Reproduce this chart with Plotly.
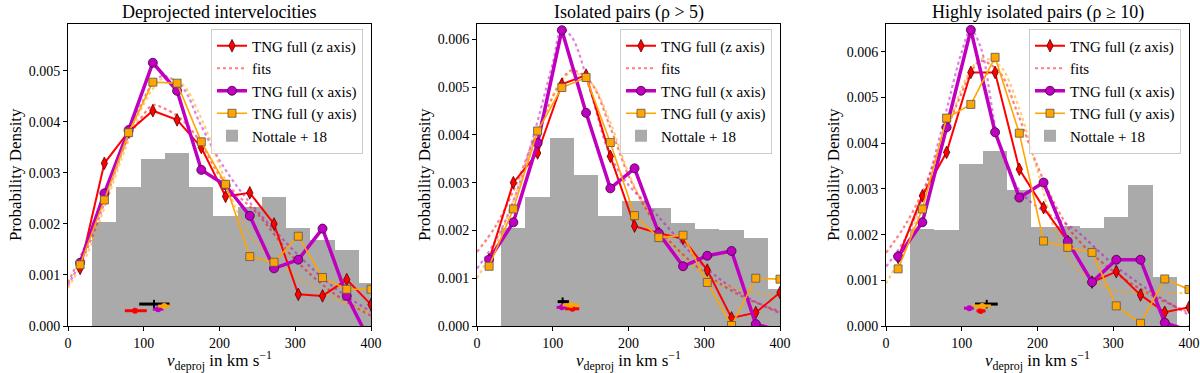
import plotly.graph_objects as go

# velocity bin centres of the TNG curves (km/s)
V_BINS = [16, 48, 80, 112, 144, 176, 208, 240, 272, 304, 336, 368, 400]
# left edges of the Nottale+18 histogram bins, width 32
HIST_LEFT = [32, 64, 96, 128, 160, 192, 224, 256, 288, 320, 352, 384]
HIST_W = 32
# sample points of the fitted curves
FIT_V = [0, 25, 50, 75, 100, 112, 125, 150, 175, 200, 225, 250, 300, 350, 400]

TITLES = ["Deprojected intervelocities",
          "Isolated pairs (\u03c1 > 5)",
          "Highly isolated pairs (\u03c1 \u2265 10)"]

# --- panel 1: all pairs
z_1 = [0.00113, 0.00319, 0.00381, 0.00422, 0.00404, 0.00350, 0.00254, 0.00261, 0.00200, 0.00062, 0.00059, 0.00091, 0.00042]
x_1 = [0.00124, 0.00260, 0.00384, 0.00516, 0.00461, 0.00306, 0.00276, 0.00216, 0.00113, 0.00130, 0.00191, 0.00059, -0.00035]
y_1 = [0.00120, 0.00247, 0.00379, 0.00478, 0.00476, 0.00361, 0.00278, 0.00136, 0.00125, 0.00176, 0.00095, 0.00072, 0.00072]
nottale_1 = [0.00205, 0.00273, 0.00329, 0.00341, 0.00273, 0.00217, 0.00234, 0.00254, 0.00193, 0.00169, 0.00150, 0.00086]
fit_z_1 = [0.00085, 0.00165, 0.00265, 0.00355, 0.00415, 0.00433, 0.00428, 0.00405, 0.00360, 0.00295, 0.00255, 0.00220, 0.00130, 0.00065, 0.00020]
fit_x_1 = [0.00080, 0.00150, 0.00250, 0.00355, 0.00445, 0.00475, 0.00490, 0.00470, 0.00395, 0.00325, 0.00270, 0.00225, 0.00145, 0.00077, 0.00028]
fit_y_1 = [0.00075, 0.00140, 0.00240, 0.00345, 0.00435, 0.00465, 0.00485, 0.00475, 0.00410, 0.00315, 0.00220, 0.00160, 0.00100, 0.00055, 0.00025]

# --- panel 2: rho > 5
z_2 = [0.00139, 0.00300, 0.00362, 0.00506, 0.00525, 0.00355, 0.00209, 0.00194, 0.00183, 0.00117, 0.00017, 0.00028, 0.00070]
x_2 = [0.00139, 0.00217, 0.00383, 0.00619, 0.00446, 0.00288, 0.00330, 0.00194, 0.00125, 0.00147, 0.00157, 0.00004, -0.00010]
y_2 = [0.00125, 0.00245, 0.00408, 0.00499, 0.00520, 0.00384, 0.00231, 0.00185, 0.00190, 0.00091, 0.00001, 0.00100, 0.00098]
nottale_2 = [0.00207, 0.00272, 0.00394, 0.00318, 0.00231, 0.00263, 0.00249, 0.00217, 0.00204, 0.00201, 0.00185, 0.00079]
fit_z_2 = [0.00155, 0.00210, 0.00290, 0.00390, 0.00480, 0.00515, 0.00535, 0.00510, 0.00420, 0.00315, 0.00240, 0.00185, 0.00112, 0.00062, 0.00030]
fit_x_2 = [0.00120, 0.00180, 0.00270, 0.00400, 0.00550, 0.00620, 0.00605, 0.00490, 0.00360, 0.00295, 0.00255, 0.00210, 0.00125, 0.00066, 0.00027]
fit_y_2 = [0.00100, 0.00170, 0.00270, 0.00380, 0.00480, 0.00515, 0.00530, 0.00510, 0.00430, 0.00320, 0.00240, 0.00185, 0.00105, 0.00075, 0.00062]

# --- panel 3: rho >= 10
z_3 = [0.00150, 0.00285, 0.00380, 0.00555, 0.00555, 0.00343, 0.00259, 0.00185, 0.00096, 0.00119, 0.00068, 0.00030, 0.00041]
x_3 = [0.00152, 0.00227, 0.00435, 0.00648, 0.00424, 0.00281, 0.00314, 0.00185, 0.00096, 0.00145, 0.00145, 0.00007, -0.00010]
y_3 = [0.00125, 0.00256, 0.00455, 0.00485, 0.00588, 0.00422, 0.00186, 0.00172, 0.00161, 0.00044, 0.00006, 0.00103, 0.00080]
nottale_3 = [0.00213, 0.00211, 0.00355, 0.00385, 0.00298, 0.00218, 0.00221, 0.00215, 0.00239, 0.00310, 0.00108, 0.0]
fit_z_3 = [0.00160, 0.00220, 0.00300, 0.00410, 0.00510, 0.00555, 0.00580, 0.00555, 0.00460, 0.00350, 0.00260, 0.00195, 0.00120, 0.00068, 0.00030]
fit_x_3 = [0.00130, 0.00190, 0.00290, 0.00440, 0.00600, 0.00648, 0.00610, 0.00395, 0.00300, 0.00260, 0.00235, 0.00210, 0.00135, 0.00075, 0.00024]
fit_y_3 = [0.00093, 0.00170, 0.00280, 0.00400, 0.00520, 0.00560, 0.00585, 0.00570, 0.00480, 0.00340, 0.00200, 0.00130, 0.00080, 0.00073, 0.00072]

# mean velocities with uncertainty, order: observed(black), z, x, y
err_mean_1 = [113.5, 88.5, 119, 127]
err_lo_1 = [94, 75, 112, 119]
err_hi_1 = [134, 104, 126, 134]
err_y_1 = [0.00043, 0.00030, 0.00033, 0.00039]

err_mean_2 = [113, 126, 112, 124]
err_lo_2 = [106.5, 116, 105, 113]
err_hi_2 = [121.5, 135, 118, 135]
err_y_2 = [0.00051, 0.00036, 0.00039, 0.00044]

err_mean_3 = [133, 125, 110, 127]
err_lo_3 = [117.5, 119.5, 103, 115]
err_hi_3 = [147.5, 131.5, 116, 138.5]
err_y_3 = [0.00048, 0.00033, 0.00039, 0.00044]

Y_TOP = [0.00593, 0.00633, 0.00662]

panels = [
    (z_1, x_1, y_1, nottale_1, fit_z_1, fit_x_1, fit_y_1, err_mean_1, err_lo_1, err_hi_1, err_y_1),
    (z_2, x_2, y_2, nottale_2, fit_z_2, fit_x_2, fit_y_2, err_mean_2, err_lo_2, err_hi_2, err_y_2),
    (z_3, x_3, y_3, nottale_3, fit_z_3, fit_x_3, fit_y_3, err_mean_3, err_lo_3, err_hi_3, err_y_3),
]

RED = "#ff0000"
MAG = "#bf00bf"
ORA = "#ffa500"
GREY = "#aaaaaa"
FONT = "Liberation Serif"

x_dom = [(68 / 1200, 371 / 1200), (477 / 1200, 780 / 1200), (886 / 1200, 1189 / 1200)]
y_dom = (1 - 326 / 373, 1 - 23.5 / 373)

fig = go.Figure()

for i, (zv, xv, yv, hist, fz, fx, fy, em, elo, ehi, ey) in enumerate(panels):
    n = "" if i == 0 else str(i + 1)
    xa, ya = "x" + n, "y" + n
    leg = "legend" + n

    fig.add_trace(go.Bar(
        x=HIST_LEFT, y=hist, width=HIST_W, offset=0,
        marker=dict(color=GREY, line=dict(width=0)),
        name="Nottale + 18", legend=leg, legendrank=5,
        xaxis=xa, yaxis=ya))

    # fits
    for fv, col, show in [(fz, "rgba(255,0,0,0.5)", True),
                          (fx, "rgba(191,0,191,0.5)", False),
                          (fy, "rgba(255,165,0,0.55)", False)]:
        fig.add_trace(go.Scatter(
            x=FIT_V, y=fv, mode="lines", line=dict(color=col, width=2.2, dash="dot", shape="spline"),
            name="fits", showlegend=show, legend=leg, legendrank=2,
            xaxis=xa, yaxis=ya))

    fig.add_trace(go.Scatter(
        x=V_BINS, y=zv, mode="lines+markers",
        line=dict(color=RED, width=2),
        marker=dict(symbol="diamond-tall", size=9, color=RED, line=dict(color="#550000", width=0.8)),
        name="TNG full (z axis)", legend=leg, legendrank=1,
        xaxis=xa, yaxis=ya))
    fig.add_trace(go.Scatter(
        x=V_BINS, y=xv, mode="lines+markers",
        line=dict(color=MAG, width=3.5),
        marker=dict(symbol="circle", size=9, color=MAG, line=dict(color="#400040", width=0.8)),
        name="TNG full (x axis)", legend=leg, legendrank=3,
        xaxis=xa, yaxis=ya))
    fig.add_trace(go.Scatter(
        x=V_BINS, y=yv, mode="lines+markers",
        line=dict(color=ORA, width=1.6),
        marker=dict(symbol="square", size=8, color=ORA, line=dict(color="#555555", width=0.8)),
        name="TNG full (y axis)", legend=leg, legendrank=4,
        xaxis=xa, yaxis=ya))

    # mean values with errors
    for k, col in enumerate(["black", RED, MAG, ORA]):
        fig.add_trace(go.Scatter(
            x=[em[k]], y=[ey[k]], mode="markers",
            marker=dict(symbol="line-ns" if k == 0 else "circle", size=6 if k == 0 else 4,
                        color=col, line=dict(color=col, width=2)),
            error_x=dict(type="data", symmetric=False,
                         array=[ehi[k] - em[k]], arrayminus=[em[k] - elo[k]],
                         color=col, thickness=3, width=0),
            showlegend=False, xaxis=xa, yaxis=ya))

    axis_common = dict(showline=True, linecolor="black", linewidth=1, mirror=True,
                       ticks="outside", ticklen=4, tickcolor="black", showgrid=False,
                       zeroline=False, automargin=False,
                       tickfont=dict(family=FONT, size=14, color="black"))
    fig.layout["xaxis" + n] = dict(
        domain=x_dom[i], anchor=ya, range=[0, 400], tickvals=[0, 100, 200, 300, 400],
        title=dict(text="<i>v</i><sub>deproj</sub> in km s<sup>\u22121</sup>",
                   font=dict(family=FONT, size=17, color="black"), standoff=4),
        **axis_common)
    fig.layout["yaxis" + n] = dict(
        domain=y_dom, anchor=xa, range=[0, Y_TOP[i]], dtick=0.001, tickformat=".3f",
        title=dict(text="Probability Density", font=dict(family=FONT, size=17, color="black"),
                   standoff=2),
        **axis_common)
    fig.layout[leg] = dict(
        x=x_dom[i][1] - 8 / 1200, y=y_dom[1] - 5 / 373, xanchor="right", yanchor="top",
        bgcolor="rgba(255,255,255,0.85)", bordercolor="#cccccc", borderwidth=1,
        font=dict(family=FONT, size=15, color="black"), tracegroupgap=0, itemwidth=30)
    fig.add_annotation(
        text=TITLES[i], x=(x_dom[i][0] + x_dom[i][1]) / 2, y=1 - 12 / 373,
        xref="paper", yref="paper", showarrow=False, xanchor="center", yanchor="middle",
        font=dict(family=FONT, size=18, color="black"))

fig.update_layout(
    width=1200, height=373, margin=dict(l=0, r=0, t=0, b=0),
    plot_bgcolor="white", paper_bgcolor="white", bargap=0,
    font=dict(family=FONT, color="black"))

# drop the browser's default page margin so the figure sits at the window corner
fig.write_html("out.html", config={"displayModeBar": False},
               post_script="document.body.style.margin = '0';")
